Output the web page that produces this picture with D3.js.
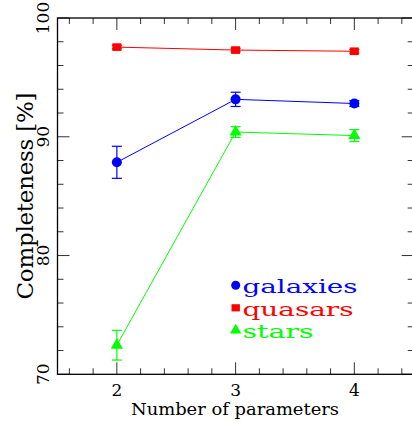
<!DOCTYPE html>
<html>
<head>
<meta charset="utf-8">
<script src="https://cdnjs.cloudflare.com/ajax/libs/d3/7.8.5/d3.min.js"></script>
<style>
  body { margin: 0; background: #fff; }
  text { font-family: 'DejaVu Serif', serif; }
</style>
</head>
<body>
<svg id="chart" width="412" height="422"></svg>
<script>
const params = [2, 3, 4];
const galaxies = [87.85, 93.15, 92.8];
const galaxiesErr = [1.35, 0.6, 0.25];
const quasars = [97.55, 97.3, 97.2];
const quasarsErr = [0.15, 0.15, 0.15];
const stars = [72.45, 90.4, 90.1];
const starsErr = [1.25, 0.45, 0.5];
const yTicks = [70, 80, 90, 100];
const xTicks = [2, 3, 4];
const legendWidths = [115, 111, 71];

const series = [
  { name: 'galaxies', values: galaxies, err: galaxiesErr, color: '#0000ff', shape: 'circle' },
  { name: 'quasars', values: quasars, err: quasarsErr, color: '#ff0000', shape: 'square' },
  { name: 'stars', values: stars, err: starsErr, color: '#00ff00', shape: 'triangle' }
];

const svg = d3.select('#chart');
const pLeft = 57.5, pRight = 413.7, pTop = 18, pBottom = 374.3;

const x = d3.scaleLinear().domain([1.5, 4.5]).range([pLeft, pRight]);
const y = d3.scaleLinear().domain([70, 100]).range([pBottom, pTop]);

// minor / major ticks, all pointing inward
const xMinor = d3.range(1.6, 4.45, 0.2).filter(v => Math.abs(v - Math.round(v)) > 0.01);
const yMinor = d3.range(72, 100, 2).filter(v => v % 10 !== 0);
const tickColor = '#333';

const g = svg.append('g').attr('stroke', tickColor).attr('stroke-width', 1);
xMinor.forEach(v => {
  g.append('line').attr('x1', x(v)).attr('x2', x(v)).attr('y1', pBottom).attr('y2', pBottom - 6);
  g.append('line').attr('x1', x(v)).attr('x2', x(v)).attr('y1', pTop).attr('y2', pTop + 6);
});
xTicks.forEach(v => {
  g.append('line').attr('x1', x(v)).attr('x2', x(v)).attr('y1', pBottom).attr('y2', pBottom - 12);
  g.append('line').attr('x1', x(v)).attr('x2', x(v)).attr('y1', pTop).attr('y2', pTop + 12);
});
yMinor.forEach(v => {
  g.append('line').attr('x1', pLeft).attr('x2', pLeft + 6).attr('y1', y(v)).attr('y2', y(v));
  g.append('line').attr('x1', pRight).attr('x2', pRight - 6).attr('y1', y(v)).attr('y2', y(v));
});
yTicks.forEach(v => {
  g.append('line').attr('x1', pLeft).attr('x2', pLeft + 12).attr('y1', y(v)).attr('y2', y(v));
  g.append('line').attr('x1', pRight).attr('x2', pRight - 12).attr('y1', y(v)).attr('y2', y(v));
});

// frame
svg.append('rect')
  .attr('x', pLeft).attr('y', pTop)
  .attr('width', pRight - pLeft).attr('height', pBottom - pTop)
  .attr('fill', 'none').attr('stroke', '#000').attr('stroke-width', 1.3);

// tick labels
svg.selectAll('.xlab').data(xTicks).enter().append('text')
  .attr('x', d => x(d)).attr('y', 396)
  .attr('text-anchor', 'middle').attr('font-size', 17)
  .text(d => d);

svg.selectAll('.ylab').data(yTicks).enter().append('text')
  .attr('transform', d => 'translate(48.5,' + y(d) + ') rotate(-90)')
  .attr('text-anchor', 'middle').attr('font-size', 17)
  .text(d => d);

// axis titles
svg.append('text')
  .attr('x', 235).attr('y', 415)
  .attr('text-anchor', 'middle').attr('font-size', 16)
  .attr('textLength', 208).attr('lengthAdjust', 'spacingAndGlyphs')
  .text('Number of parameters');

svg.append('text')
  .attr('transform', 'translate(33,196) rotate(-90)')
  .attr('text-anchor', 'middle').attr('font-size', 23)
  .attr('textLength', 207).attr('lengthAdjust', 'spacing')
  .text('Completeness [%]');

const marker = (sel, shape, color, s) => {
  if (shape === 'circle') {
    sel.append('circle').attr('r', s).attr('fill', color);
  } else if (shape === 'square') {
    sel.append('rect').attr('x', -s).attr('y', -s * 0.85).attr('width', 2 * s).attr('height', 1.7 * s).attr('fill', color);
  } else {
    sel.append('path').attr('d', d3.symbol(d3.symbolTriangle, s * s * 3.2)()).attr('fill', color);
  }
};

series.forEach(s => {
  const pts = params.map((p, i) => ({ p, v: s.values[i], e: s.err[i] }));
  const sg = svg.append('g');
  sg.append('path')
    .datum(pts)
    .attr('fill', 'none').attr('stroke', s.color).attr('stroke-width', 1)
    .attr('d', d3.line().x(d => x(d.p)).y(d => y(d.v)));
  const eb = sg.selectAll('.eb').data(pts).enter().append('g')
    .attr('stroke', s.color).attr('stroke-width', 1.2);
  eb.append('line').attr('x1', d => x(d.p)).attr('x2', d => x(d.p))
    .attr('y1', d => y(d.v + d.e)).attr('y2', d => y(d.v - d.e));
  eb.append('line').attr('x1', d => x(d.p) - 5).attr('x2', d => x(d.p) + 5)
    .attr('y1', d => y(d.v + d.e)).attr('y2', d => y(d.v + d.e));
  eb.append('line').attr('x1', d => x(d.p) - 5).attr('x2', d => x(d.p) + 5)
    .attr('y1', d => y(d.v - d.e)).attr('y2', d => y(d.v - d.e));
  pts.forEach(d => {
    const m = sg.append('g').attr('transform', 'translate(' + x(d.p) + ',' + y(d.v) + ')');
    marker(m, s.shape, s.color, s.shape === 'circle' ? 5 : 4.5);
  });
});

// legend
series.forEach((s, i) => {
  const ly = 293.3 + i * 22.5;
  const m = svg.append('g').attr('transform', 'translate(235.7,' + (ly - 8) + ')');
  marker(m, s.shape, s.color, s.shape === 'circle' ? 4.5 : 4.2);
  svg.append('text')
    .attr('x', 242.5).attr('y', ly)
    .attr('font-size', 19).attr('fill', s.color)
    .attr('textLength', legendWidths[i]).attr('lengthAdjust', 'spacingAndGlyphs')
    .text(s.name);
});
</script>
</body>
</html>
